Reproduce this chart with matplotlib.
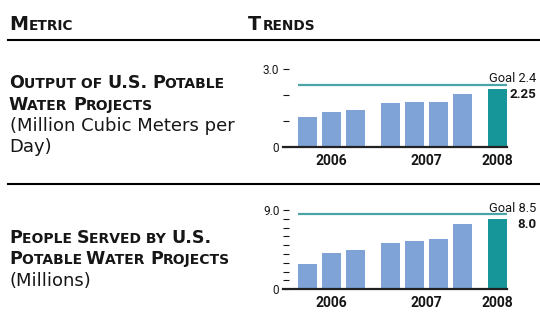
import matplotlib
matplotlib.use('Agg')
import matplotlib.pyplot as plt
from matplotlib import font_manager
from matplotlib.font_manager import FontProperties
from matplotlib.ft2font import FT2Font

# data
years = ['2006', '2007', '2008']
bars_per_year = [3, 4, 1]
output_vals = [1.14, 1.36, 1.44, 1.70, 1.74, 1.74, 2.05, 2.25]
output_goal = 2.4
people_vals = [2.9, 4.1, 4.45, 5.25, 5.5, 5.75, 7.4, 8.0]
people_goal = 8.5

W, H = 540, 320
names = {f.name for f in font_manager.fontManager.ttflist}
chart_font = 'Liberation Sans Narrow' if 'Liberation Sans Narrow' in names else 'Roboto'
text_font = 'DejaVu Sans'

blue = '#7fa3d6'
teal = '#169698'
goal_col = '#4ba5a6'
ink = '#161616'

fig = plt.figure(figsize=(W / 100, H / 100), dpi=100)
fig.patch.set_facecolor('white')


def fx(x):
    return x / W


def fy(y):
    return 1 - y / H


_fonts = {}


def ft_font(weight, size):
    key = (weight, size)
    if key not in _fonts:
        f = FT2Font(font_manager.findfont(FontProperties(family=text_font, weight=weight)))
        f.set_size(size, 100)
        _fonts[key] = f
    return _fonts[key]


def advance(f, txt):
    # pen advance of a run in pixels
    w = 0.0
    prev = None
    for ch in txt:
        idx = f.get_char_index(ord(ch))
        if prev is not None:
            try:
                w += f.get_kerning(prev, idx, 0) / 64
            except Exception:
                pass
        w += f.load_char(ord(ch)).linearHoriAdvance / 65536
        prev = idx
    return w


def draw_runs(x, y, runs, weight):
    for txt, size in runs:
        f = ft_font(weight, size)
        if txt.strip():
            lead = f.load_char(ord(txt[0])).horiBearingX / 64
            fig.text(fx(x + lead), fy(y), txt, fontsize=size, fontweight=weight,
                     family=text_font, color=ink, va='baseline', ha='left')
        x += advance(f, txt)


def smallcaps(x, y, s, big, small):
    # capitals at full size, lower case drawn as smaller capitals
    runs = []
    for ch in s:
        size = small if (ch.islower() or ch == ' ') else big
        if runs and runs[-1][1] == size:
            runs[-1] = (runs[-1][0] + ch.upper(), size)
        else:
            runs.append((ch.upper(), size))
    draw_runs(x, y, runs, 'bold')


def plain(x, y, s):
    draw_runs(x, y, [(s, 13)], 'normal')


def rule(y):
    fig.add_artist(plt.Line2D([fx(8), fx(540)], [fy(y), fy(y)], color='black', lw=1.5))


# column headers
smallcaps(8, 30.5, 'Metric', 13.8, 9.9)
smallcaps(248, 30.5, 'Trends', 13.8, 9.9)
rule(40)
rule(183.7)

# row titles
smallcaps(8, 88.5, 'Output of U.S. Potable', 12.6, 10)
smallcaps(8, 110, 'Water Projects', 12.6, 10)
plain(8, 131, '(Million Cubic Meters per')
plain(8, 152.3, 'Day)')

smallcaps(8, 242.7, 'People Served by U.S.', 12.6, 10)
smallcaps(8, 264.3, 'Potable Water Projects', 12.6, 10)
plain(8, 285.7, '(Millions)')

# bar positions: one unit per bar, extra gap between years
gap = 0.46
pos = []
centers = []
i = 0
for g, n in enumerate(bars_per_year):
    grp = [i + k + g * gap for k in range(n)]
    pos += grp
    centers.append((grp[0] + grp[-1]) / 2)
    i += n
bw = 0.79


def trend(y_zero, y_top, vals, goal, top, top_label, fmt):
    ax = fig.add_axes([fx(282.7), fy(y_zero), (507 - 282.7) / W, (y_zero - y_top) / H])
    colors = [blue] * (len(vals) - 1) + [teal]
    ax.bar(pos, vals, width=bw, color=colors, zorder=2)
    ax.hlines(goal, pos[0] - bw / 2, pos[-1] + bw / 2, color=goal_col, lw=1.6, zorder=3)
    ax.set_xlim(-1.033, 8.31)
    ax.set_ylim(0, top)
    for s in ['left', 'right', 'top']:
        ax.spines[s].set_visible(False)
    ax.spines['bottom'].set_linewidth(1.6)
    ax.spines['bottom'].set_color('#222222')
    ax.spines['bottom'].set_zorder(4)
    yt = list(range(int(top) + 1))
    ax.set_yticks(yt)
    ax.set_yticklabels(['0'] + [''] * (len(yt) - 2) + [top_label])
    ax.tick_params(axis='y', direction='in', length=4.6, width=0.8, color=ink, pad=2.4,
                   labelsize=8.5, labelcolor=ink)
    ax.set_xticks(centers)
    ax.set_xticklabels(years)
    ax.tick_params(axis='x', length=0, pad=5, labelsize=10, labelcolor=ink)
    for lab in ax.get_yticklabels():
        lab.set_family(chart_font)
    for lab in ax.get_xticklabels():
        lab.set_family(chart_font)
        lab.set_fontweight('bold')
    ax.patch.set_alpha(0)
    ax.annotate('Goal %g' % goal, xy=(536.7 / W, goal), xycoords=('figure fraction', 'data'),
                xytext=(0, 2), textcoords='offset points', ha='right', va='baseline',
                fontsize=9.3, family=chart_font, color=ink, annotation_clip=False)
    ax.annotate(fmt % vals[-1], xy=(536.7 / W, vals[-1]),
                xycoords=('figure fraction', 'data'),
                xytext=(0, -4), textcoords='offset points', ha='right', va='center',
                fontsize=9.5, fontweight='bold', family=chart_font, color=ink,
                annotation_clip=False)
    return ax


trend(147, 69.3, output_vals, output_goal, 3.0, '3.0', '%.2f')
trend(289.3, 210, people_vals, people_goal, 9.0, '9.0', '%.1f')

fig.savefig('out.png', dpi=100)
